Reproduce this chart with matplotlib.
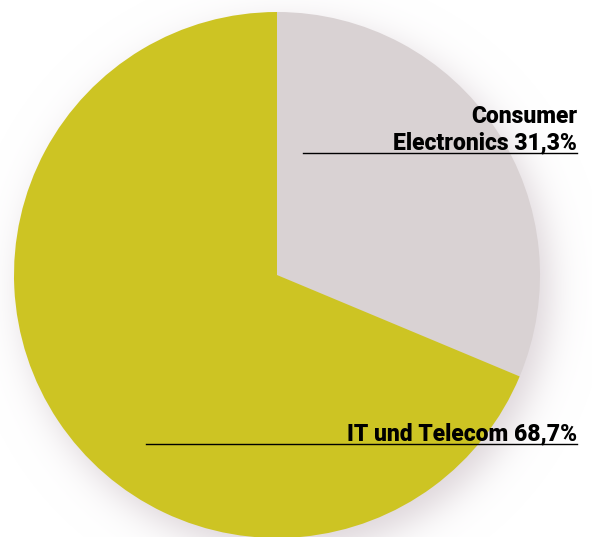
import numpy as np
import matplotlib
matplotlib.use('Agg')
import matplotlib.pyplot as plt

labels = ['Consumer\nElectronics 31,3%', 'IT und Telecom 68,7%']
shares = [31.3, 68.7]
colors = ['#d9d2d3', '#cdc423']

W, H = 592, 537
fig = plt.figure(figsize=(W / 100, H / 100), dpi=100)
ax = fig.add_axes([0, 0, 1, 1])

cx, cy, r = 277, H - 275, 263

# soft shadow under the pie, pushed down and to the right
yy, xx = np.mgrid[0:H, 0:W]
d = np.hypot(xx - (cx + 9), (H - yy) - (cy - 13)) - r
alpha = 0.75 / (1 + np.exp(d / 11.0))
shadow = np.zeros((H, W, 4))
shadow[..., 0] = 0.82
shadow[..., 1] = 0.78
shadow[..., 2] = 0.80
shadow[..., 3] = alpha
ax.imshow(shadow, extent=[0, W, 0, H], origin='upper', zorder=0)

ax.pie(shares, colors=colors, startangle=90, counterclock=False,
       center=(cx, cy), radius=r, frame=True,
       wedgeprops=dict(linewidth=0, zorder=1))
ax.set_xlim(0, W)
ax.set_ylim(0, H)
ax.set_aspect('equal')
ax.axis('off')

font = dict(family='Roboto', weight='heavy', fontsize=16.5, color='black',
            ha='right', va='baseline', zorder=3)
top, bottom = labels[0].split('\n')
ax.text(577, H - 123, top, **font)
ax.text(577, H - 149, bottom, **font)
ax.plot([303, 577], [H - 153, H - 153], color='black', lw=1, zorder=3)
ax.text(577, H - 440, labels[1], **font)
ax.plot([146, 577], [H - 444, H - 444], color='black', lw=1, zorder=3)

fig.savefig('out.png', dpi=100)
